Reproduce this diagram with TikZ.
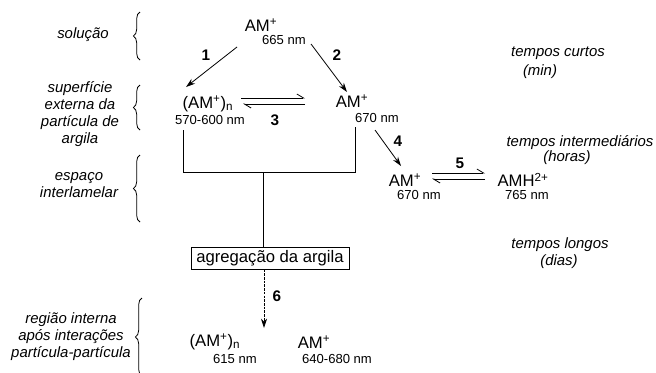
\documentclass[tikz,border=0pt]{standalone}
\usepackage{fontspec}
\setmainfont{Liberation Sans}
\usetikzlibrary{arrows.meta,decorations.pathreplacing}
\tikzset{species/.style={font=\fontsize{12.5}{14}\selectfont,inner sep=0pt}}
\tikzset{wavelen/.style={font=\fontsize{9.8}{11}\selectfont,inner sep=0pt}}
\tikzset{stepnum/.style={font=\fontsize{11.5}{13}\selectfont\bfseries,inner sep=0pt}}
\tikzset{region/.style={font=\fontsize{11.2}{12.8}\selectfont\itshape,align=center,inner sep=0pt}}
\tikzset{regbrace/.style={decorate,decoration={brace,amplitude=5pt},line width=0.6pt}}
\tikzset{react/.style={line width=0.6pt,-{Stealth[length=7pt,width=4.5pt]}}}
\tikzset{halfarr/.style={line width=0.6pt,-{Straight Barb[left,length=5pt,width=6pt]}}}

\begin{document}
\begin{tikzpicture}[x=0.75pt,y=-0.75pt]
  \useasboundingbox (0,0) rectangle (656,372);
  % regions
  \node[region] (sol) at (83,35) {solução};
  \node[region] (sup) at (80,114) {superfície\\externa da\\partícula de\\argila};
  \node[region] (esp) at (79,185) {espaço\\interlamelar};
  \node[region] (reg) at (71,337) {região interna\\após interações\\partícula-partícula};
  \draw[regbrace] (140,60) -- (140,12);
  \draw[regbrace] (140,130) -- (140,85);
  \draw[regbrace] (140,222) -- (140,155);
  \draw[regbrace] (142,376) -- (142,298);
  % times
  \node[region] (tc) at (558,53) {tempos curtos};
  \node[region] (tcm) at (540,72) {(min)};
  \node[region] (ti) at (580,143) {tempos intermediários};
  \node[region] (tih) at (567,158) {(horas)};
  \node[region] (tl) at (560,245) {tempos longos};
  \node[region] (tld) at (559,262) {(dias)};
  % species
  \node[species] (am0) at (261,25) {AM\textsuperscript{+}};
  \node[wavelen] (am0wl) at (284,40) {665 nm};
  \node[species] (amn) at (208,104) {(AM\textsuperscript{+})\textsubscript{n}};
  \node[wavelen] (amnwl) at (210,120) {570-600 nm};
  \node[species] (am1) at (352,101) {AM\textsuperscript{+}};
  \node[wavelen] (am1wl) at (377,118) {670 nm};
  \node[species] (am2) at (405,180) {AM\textsuperscript{+}};
  \node[wavelen] (am2wl) at (419,195) {670 nm};
  \node[species] (amh) at (523,180) {AMH\textsuperscript{2+}};
  \node[wavelen] (amhwl) at (527,195) {765 nm};
  \node[species,draw,line width=0.6pt,minimum width=158*0.75pt,minimum height=22*0.75pt] (agr) at (270,258) {agregação da argila};
  \node[species] (amb) at (215,342) {(AM\textsuperscript{+})\textsubscript{n}};
  \node[wavelen] (ambwl) at (235,359) {615 nm};
  \node[species] (am3) at (314,342) {AM\textsuperscript{+}};
  \node[wavelen] (am3wl) at (337,359) {640-680 nm};
  % steps
  \node[stepnum] (n1) at (206,55) {1};
  \node[stepnum] (n2) at (337,55) {2};
  \node[stepnum] (n3) at (275,120) {3};
  \node[stepnum] (n4) at (398,141) {4};
  \node[stepnum] (n5) at (460,163) {5};
  \node[stepnum] (n6) at (277,296) {6};
  \draw[react] ([shift={(-24,22)}]am0.center) -- ([shift={(-22,-17)}]amn.center);
  \draw[react] ([shift={(27,4)}]am0wl.center) -- ([shift={(-5,-9)}]am1.center);
  \draw[react] ([shift={(-2,12)}]am1wl.center) -- ([shift={(-4,-14)}]am2.center);
  \draw[halfarr] ([shift={(33,-6)}]amn.center) -- ([shift={(-47,-3)}]am1.center);
  \draw[halfarr] ([shift={(-47,3)}]am1.center) -- ([shift={(35,0)}]amn.center);
  \draw[halfarr] ([shift={(27,-7)}]am2.center) -- ([shift={(-38,-7)}]amh.center);
  \draw[halfarr] ([shift={(-38,-1)}]amh.center) -- ([shift={(27,-1)}]am2.center);
  \coordinate (joinl) at (183,172);
  \coordinate (joinr) at (355,172);
  \coordinate (joinm) at (263,172);
  \coordinate (tip6) at (264,328);
  \draw[line width=0.6pt] (183,130) -- (joinl) -- (joinr) -- (355,127);
  \draw[line width=0.6pt] (joinm) -- (agr.north -| joinm);
  \draw[react,dash pattern=on 2pt off 0.8pt] (agr.south -| tip6) -- (tip6);
\end{tikzpicture}
\end{document}
